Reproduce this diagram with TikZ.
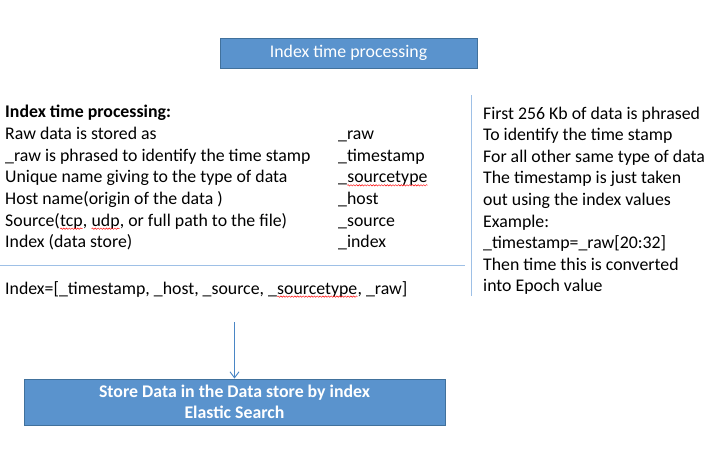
\documentclass[tikz,border=0pt]{standalone}
\usepackage{fontspec}
\setmainfont{Carlito}
\usetikzlibrary{arrows.meta,decorations.pathmorphing}
\definecolor{boxfill}{HTML}{5A93CD}
\definecolor{boxdraw}{HTML}{41719C}
\definecolor{lineblue}{HTML}{9EC0E6}
\definecolor{arrowblue}{HTML}{4A86C5}
\newcommand{\sqw}[1]{\tikz[baseline=(sqwn.base)]{\node[inner sep=0pt,outer sep=0pt] (sqwn) {#1};
  \draw[red, line width=0.45pt, decorate, decoration={snake, amplitude=0.7pt, segment length=2.8pt}]
  ([yshift=-2.6pt]sqwn.base west) -- ([yshift=-2.6pt]sqwn.base east);}}
\tikzset{
  txt/.style={anchor=base west, inner sep=0pt, font=\fontsize{17.8}{21.7}\selectfont},
  bluebox/.style={draw=boxdraw, line width=1pt, fill=boxfill, text=white, inner sep=0pt,
    align=center, font=\fontsize{17.8}{20.6}\selectfont},
  sepline/.style={draw=lineblue, line width=1.6pt},
  arr/.style={draw=arrowblue, line width=0.9pt, -{Straight Barb[length=6pt,width=9pt]}}
}
\begin{document}
\begin{tikzpicture}[x=1pt,y=-1pt]
\useasboundingbox (0,0) rectangle (713,475);
% top box
\node[bluebox, minimum width=257pt, minimum height=30pt] (top) at (348.5,53) {Index time processing};
% left column
\node[txt] (h)  at (5,117.6) {\textbf{Index time processing:}};
\node[txt] (l1) at (5,139.3) {Raw data is stored as};
\node[txt] (l2) at (5,161.0) {\_raw is phrased to identify the time stamp};
\node[txt] (l3) at (5,182.7) {Unique name giving to the type of data};
\node[txt] (l4) at (5,204.4) {Host name(origin of the data )};
\node[txt] (l5) at (5,226.1) {Source(\sqw{tcp}, \sqw{udp}, or full path to the file)};
\node[txt] (l6) at (5,247.8) {Index (data store)};
\node[txt] (v1) at (338,139.3) {\_raw};
\node[txt] (v2) at (338,161.0) {\_timestamp};
\node[txt] (v3) at (338,182.7) {\_\sqw{sourcetype}};
\node[txt] (v4) at (338,204.4) {\_host};
\node[txt] (v5) at (338,226.1) {\_source};
\node[txt] (v6) at (338,247.8) {\_index};
% separators
\coordinate (hla) at (0,265.5);
\coordinate (hlb) at (465,265.5);
\draw[sepline] (hla) -- (hlb);
\coordinate (vla) at (471.5,95);
\coordinate (vlb) at (471.5,296);
\draw[sepline] (vla) -- (vlb);
% index line
\node[txt] (idx) at (5,294) {Index=[\_timestamp, \_host, \_source, \_\sqw{sourcetype}, \_raw]};
% right column
\node[txt] (r1) at (483,119.0) {First 256 Kb of data is phrased};
\node[txt] (r2) at (483,140.6) {To identify the time stamp};
\node[txt] (r3) at (483,162.2) {For all other same type of data};
\node[txt] (r4) at (483,183.8) {The timestamp is just taken};
\node[txt] (r5) at (483,205.4) {out using the index values};
\node[txt] (r6) at (483,227.0) {Example:};
\node[txt] (r7) at (483,248.6) {\_timestamp=\_raw[20:32]};
\node[txt] (r8) at (483,270.2) {Then time this is converted};
\node[txt] (r9) at (483,291.8) {into Epoch value};
% bottom box
\node[bluebox, minimum width=421pt, minimum height=46pt, font=\bfseries\fontsize{17.8}{20.6}\selectfont] (bot) at (234.5,402) {Store Data in the Data store by index\\Elastic Search};
\coordinate (astart) at (234.5,322);
\draw[arr] (astart) -- (bot.north);
\end{tikzpicture}
\end{document}
